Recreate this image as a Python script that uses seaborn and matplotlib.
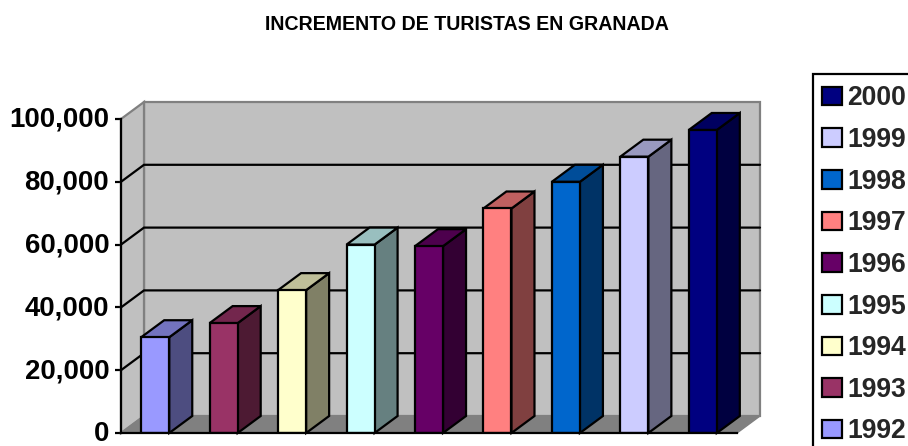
import matplotlib
matplotlib.use("Agg")
import matplotlib.pyplot as plt
from matplotlib.patches import Patch, Polygon, Rectangle
from matplotlib.ticker import FuncFormatter
from matplotlib.colors import to_rgb
from matplotlib.transforms import ScaledTranslation
import pandas as pd
import seaborn as sns

years = ["1992", "1993", "1994", "1995", "1996", "1997", "1998", "1999", "2000"]
tourists = [30500, 35000, 45500, 60000, 59500, 71500, 80000, 88000, 96500]
colors = ["#9999FF", "#993366", "#FFFFCC", "#CCFFFF", "#660066", "#FF8080", "#0066CC", "#CCCCFF", "#000080"]
title = "INCREMENTO DE TURISTAS EN GRANADA"
yticks = [0, 20000, 40000, 60000, 80000, 100000]

sns.set_style("white")
plt.rcParams["font.family"] = ["Liberation Sans", "DejaVu Sans"]
W, H = 908, 446
fig = plt.figure(figsize=(W / 100, H / 100), dpi=100, facecolor="white")
L, R, T, B = 121, 737, 119, 433
ax = fig.add_axes([L / W, 1 - B / H, (R - L) / W, (B - T) / H])

df = pd.DataFrame({"year": years, "tourists": tourists})
sns.barplot(data=df, x="year", y="tourists", hue="year", palette=colors, dodge=False,
            width=0.41, edgecolor="black", linewidth=1.6, legend=False, ax=ax, zorder=5, saturation=1)
ax.set_xlim(-0.5, 8.5)
ax.set_ylim(0, 100000)

dx = 23 / ((R - L) / 9)
dy = 17 / ((B - T) / 100000)
x0, x1 = ax.get_xlim()
y0, y1 = ax.get_ylim()


def poly(pts, fc, ec="none", lw=0, z=1):
    ax.add_patch(Polygon(pts, closed=True, facecolor=fc, edgecolor=ec, linewidth=lw,
                         zorder=z, clip_on=False, joinstyle="miter"))


# walls and floor
poly([(x0 + dx, y0 + dy), (x1 + dx, y0 + dy), (x1 + dx, y1 + dy), (x0 + dx, y1 + dy)], "#C0C0C0", "#808080", 1.6, 1)
poly([(x0, y0), (x0 + dx, y0 + dy), (x0 + dx, y1 + dy), (x0, y1)], "#C0C0C0", "#808080", 1.6, 1)
poly([(x0, y0), (x1, y0), (x1 + dx, y0 + dy), (x0 + dx, y0 + dy)], "#808080", "#808080", 1.0, 1.5)

# gridlines on the walls
for t in yticks[1:-1]:
    ax.plot([x0, x0 + dx, x1 + dx], [t, t + dy, t + dy], color="black", lw=1.6, zorder=2,
            clip_on=False, solid_joinstyle="miter")

# 3D faces of the bars
for cont in ax.containers:
    for bar in cont:
        a, w, h = bar.get_x(), bar.get_width(), bar.get_height()
        c = to_rgb(bar.get_facecolor()[:3])
        side = tuple(v * 0.5 for v in c)
        top = tuple(v * 0.75 for v in c)
        poly([(a + w, 0), (a + w + dx, dy), (a + w + dx, h + dy), (a + w, h)], side, "black", 1.6, 4)
        poly([(a, h), (a + w, h), (a + w + dx, h + dy), (a + dx, h + dy)], top, "black", 1.6, 4)

ax.set_yticks(yticks)
ax.yaxis.set_major_formatter(FuncFormatter(lambda v, _: f"{v:,.0f}"))
ax.set_xticks([])
ax.set_xlabel("")
ax.set_ylabel("")
ax.tick_params(axis="y", length=4.5, width=1.6, color="black", pad=4, left=True)
shift = ScaledTranslation(0, 2 / 100, fig.dpi_scale_trans)
for lab in ax.get_yticklabels():
    lab.set_fontsize(19.9)
    lab.set_fontweight("bold")
    lab.set_color("black")
    lab.set_transform(lab.get_transform() + shift)
for s in ["top", "right"]:
    ax.spines[s].set_visible(False)
for s in ["left", "bottom"]:
    ax.spines[s].set_color("black")
    ax.spines[s].set_linewidth(1.6)
    ax.spines[s].set_zorder(6)
ax.patch.set_visible(False)

# legend frame runs past the figure edge, as in the reference
fig.add_artist(Rectangle((813 / W, -0.05), 0.2, 1.05 - 74 / H, transform=fig.transFigure,
                         facecolor="white", edgecolor="black", linewidth=1.6, zorder=-1))
handles = [Patch(facecolor=c, edgecolor="black", linewidth=1.6, label=y)
           for y, c in zip(years[::-1], colors[::-1])]
leg = ax.legend(handles=handles, loc="upper left", bbox_to_anchor=(813 / W, 1 - 76 / H),
                bbox_transform=fig.transFigure, borderaxespad=0, frameon=False, borderpad=0.35,
                handlelength=0.73, handleheight=0.7, handletextpad=0.22, labelspacing=0.59,
                prop={"size": 19.1, "weight": "bold"})
leg.set_zorder(20)

fig.text(467 / W, 1 - 25 / H, title, ha="center", va="center", fontsize=14.1, fontweight="bold", color="black")
fig.savefig("out.png", dpi=100)
